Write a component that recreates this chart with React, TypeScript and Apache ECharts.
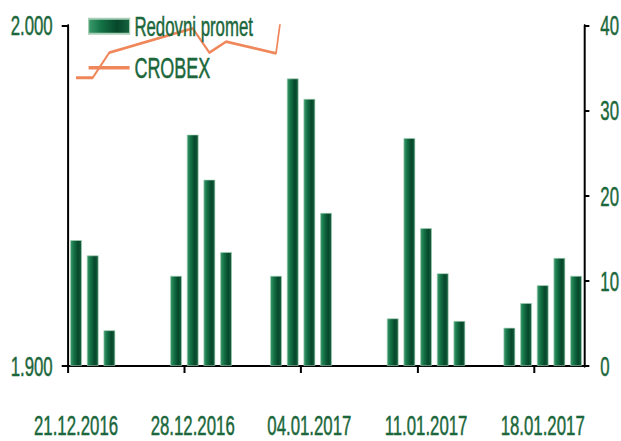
import React, { useEffect, useRef } from "react";
import * as echarts from "echarts";

const dates = [
  "21.12.2016", "22.12.2016", "23.12.2016",
  "27.12.2016", "28.12.2016", "29.12.2016", "30.12.2016",
  "02.01.2017", "03.01.2017", "04.01.2017", "05.01.2017",
  "09.01.2017", "10.01.2017", "11.01.2017", "12.01.2017", "13.01.2017",
  "16.01.2017", "17.01.2017", "18.01.2017", "19.01.2017", "20.01.2017",
];
const redovniPromet = [
  14.8, 13.0, 4.2,
  10.6, 27.2, 21.9, 13.4,
  10.6, 33.8, 31.4, 18.0,
  5.6, 26.8, 16.2, 10.9, 5.3,
  4.5, 7.4, 9.5, 12.7, 10.6,
];
const crobex = [
  1984.7, 1984.7, 1992.1,
  1997.8, 1999.2, 1992.1, 1995.3,
  1991.9, 2028.0, 2040.0, 2045.0,
  2055.0, 2062.0, 2070.0, 2075.0, 2080.0,
  2085.0, 2090.0, 2095.0, 2100.0, 2105.0,
];
const tickDates = ["21.12.2016", "28.12.2016", "04.01.2017", "11.01.2017", "18.01.2017"];
const startDate = "21.12.2016";
const endDate = "21.01.2017";

const DAY = 86400000;
function parseDate(s: string): number {
  const [d, m, y] = s.split(".").map(Number);
  return Date.UTC(y, m - 1, d);
}
function dayIndex(s: string): number {
  return Math.round((parseDate(s) - parseDate(startDate)) / DAY);
}
function dateLabel(idx: number): string {
  const t = new Date(parseDate(startDate) + Math.floor(idx) * DAY);
  const dd = String(t.getUTCDate()).padStart(2, "0");
  const mm = String(t.getUTCMonth() + 1).padStart(2, "0");
  return `${dd}.${mm}.${t.getUTCFullYear()}`;
}

// Horizontal condensation of the whole drawing (narrow-type look of the original)
const SX = 0.6;
const W = 621;
const H = 441;
const FONT = "'Liberation Sans', Arial, sans-serif";
const GREEN_TEXT = "#1b673b";
const ORANGE = "#f0875a";
const FS = 28;

export default function App() {
  const ref = useRef<HTMLDivElement>(null);
  useEffect(() => {
    if (!ref.current) return;
    const chart = echarts.init(ref.current, undefined, { renderer: "svg" });
    const tickIdx = tickDates.map(dayIndex);
    const labelIdx = tickIdx.map((v) => v + 0.5);
    const barColor = {
      type: "linear", x: 0, y: 0, x2: 1, y2: 0,
      colorStops: [
        { offset: 0, color: "#3c9a6c" },
        { offset: 0.3, color: "#147346" },
        { offset: 0.7, color: "#06462a" },
        { offset: 1, color: "#16633f" },
      ],
    };
    const textBase = {
      color: GREEN_TEXT,
      fontSize: FS,
      fontFamily: FONT,
      textBorderColor: GREEN_TEXT,
      textBorderWidth: 0.5,
    };
    chart.setOption({
      animation: false,
      backgroundColor: "#ffffff",
      textStyle: { fontFamily: FONT },
      grid: { left: 67.7 / SX, right: 35 / SX, top: 25.7, bottom: 75, containLabel: false },
      legend: {
        orient: "vertical",
        left: 88 / SX,
        top: 12,
        padding: 0,
        itemWidth: 41 / SX,
        itemHeight: 15,
        itemGap: 12,
        textStyle: { ...textBase, padding: [0, 0, 0, 3] },
        data: [
          { name: "Redovni promet", icon: "rect" },
          { name: "CROBEX", icon: "path://M0,0H210V10H0Z", textStyle: { fontSize: 30 } },
        ],
      },
      xAxis: {
        type: "value",
        min: 0,
        max: dayIndex(endDate),
        axisLine: { onZero: false, lineStyle: { color: "#000", width: 2 } },
        axisTick: { show: true, customValues: tickIdx, length: 7, lineStyle: { color: "#000", width: 2 / SX } },
        axisLabel: {
          ...textBase,
          customValues: labelIdx,
          formatter: (v: number) => dateLabel(v),
          lineHeight: 26,
          margin: 46,
        },
        splitLine: { show: false },
      },
      yAxis: [
        {
          type: "value",
          min: 1900,
          max: 2000,
          interval: 100,
          position: "left",
          axisLine: { show: true, lineStyle: { color: "#000", width: 2 / SX } },
          axisTick: { show: true, length: 6 / SX, lineStyle: { color: "#000", width: 2 } },
          axisLabel: {
            ...textBase,
            margin: 15 / SX,
            formatter: (v: number) => (v / 1000).toFixed(3),
          },
          splitLine: { show: false },
        },
        {
          type: "value",
          min: 0,
          max: 40,
          interval: 10,
          position: "right",
          axisLine: { show: true, lineStyle: { color: "#000", width: 2 / SX } },
          axisTick: { show: true, length: 5 / SX, lineStyle: { color: "#000", width: 2 } },
          axisLabel: { ...textBase, margin: 16 / SX },
          splitLine: { show: false },
        },
      ],
      series: [
        {
          name: "Redovni promet",
          type: "bar",
          yAxisIndex: 1,
          barWidth: 11.5 / SX,
          itemStyle: { color: barColor, borderColor: "#a6cfb6", borderWidth: 0.8 },
          data: dates.map((d, i) => [dayIndex(d) + 0.5, redovniPromet[i]]),
        },
        {
          name: "CROBEX",
          type: "line",
          yAxisIndex: 0,
          showSymbol: false,
          symbol: "none",
          clip: true,
          lineStyle: { color: ORANGE, width: 2.8 },
          itemStyle: { color: ORANGE },
          data: dates.map((d, i) => [dayIndex(d) + 0.5, crobex[i]]),
        },
      ],
    });
    return () => chart.dispose();
  }, []);
  return (
    <div style={{ position: "fixed", left: 0, top: 0, width: W, height: H, overflow: "hidden", background: "#fff" }}>
      <div
        ref={ref}
        style={{ width: W / SX, height: H, transform: `scaleX(${SX})`, transformOrigin: "0 0" }}
      />
    </div>
  );
}
